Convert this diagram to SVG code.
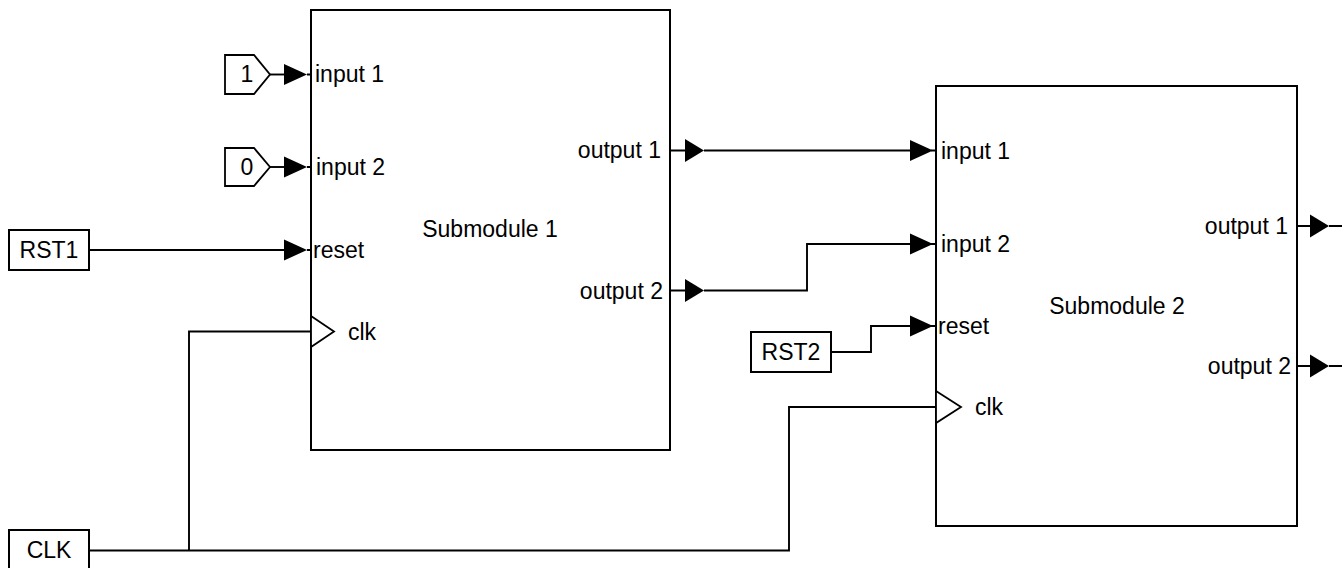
<svg xmlns="http://www.w3.org/2000/svg" xmlns:xlink="http://www.w3.org/1999/xlink" width="1342" height="568" viewBox="0 0 1342 568">
  <style>
    .blk{fill:#fff;stroke:#000;stroke-width:2}
    .w{fill:none;stroke:#000;stroke-width:1.9}
    .clkp{fill:#fff;stroke:#000;stroke-width:1.8}
    .head{fill:#000}
    text{font-family:"Liberation Sans",Arial,sans-serif;font-size:23px;fill:#000}
    .c{text-anchor:middle}
    .r{text-anchor:end}
  </style>
  <defs>
    <!-- input port arrowhead -->
    <path id="inHead" d="M0,-10.5L23,0L0,10.5Z"/>
    <!-- output port arrowhead -->
    <path id="outHead" d="M0,-11.5L19,0L0,11.5Z"/>
  </defs>
  <rect width="1342" height="568" fill="#fff"/>

  <!-- connectors -->
  <g id="connectors" class="w">
    <path d="M270,74.5H284"/>
    <path d="M270,167H284"/>
    <path d="M89,250H284"/>
    <path d="M89,550.5H789V407H936"/>
    <path d="M189,550.5V331.5H311"/>
    <path d="M831,352H871V326H910"/>
    <path d="M704,150.5H910"/>
    <path d="M704,290.5H807V244H910"/>
  </g>

  <!-- Submodule 1 -->
  <g id="submodule1">
    <rect class="blk" x="311" y="10" width="359" height="440"/>
    <text class="c" x="490" y="237">Submodule 1</text>
    <g class="w">
      <path d="M307,74.5H311M307,167H311M307,250H311M670,150.5H685M670,290.5H685"/>
    </g>
    <use href="#inHead" class="head" x="284" y="74.5"/>
    <use href="#inHead" class="head" x="284" y="167"/>
    <use href="#inHead" class="head" x="284" y="250"/>
    <use href="#outHead" class="head" x="685" y="150.5"/>
    <use href="#outHead" class="head" x="685" y="290.5"/>
    <polygon class="clkp" points="311,316 334,331.5 311,347"/>
    <text x="315" y="82">input 1</text>
    <text x="316" y="175">input 2</text>
    <text x="313" y="258">reset</text>
    <text x="348" y="340">clk</text>
    <text class="r" x="661" y="158">output 1</text>
    <text class="r" x="663" y="299">output 2</text>
  </g>

  <!-- Submodule 2 -->
  <g id="submodule2">
    <rect class="blk" x="936" y="86" width="361" height="440"/>
    <text class="c" x="1117" y="314">Submodule 2</text>
    <g class="w">
      <path d="M931,150.5H936M931,244H936M931,326H936M1297,226H1310M1329,226H1342M1297,366H1310M1329,366H1342"/>
    </g>
    <use href="#inHead" class="head" x="910" y="150.5"/>
    <use href="#inHead" class="head" x="910" y="244"/>
    <use href="#inHead" class="head" x="910" y="326"/>
    <use href="#outHead" class="head" x="1310" y="226"/>
    <use href="#outHead" class="head" x="1310" y="366"/>
    <polygon class="clkp" points="936,391 961,407 936,423"/>
    <text x="941" y="159">input 1</text>
    <text x="941" y="252">input 2</text>
    <text x="938" y="334">reset</text>
    <text x="975" y="415">clk</text>
    <text class="r" x="1288" y="234">output 1</text>
    <text class="r" x="1291" y="374">output 2</text>
  </g>

  <!-- constant 1 -->
  <g id="const1">
    <polygon class="blk" style="stroke-width:1.8" points="225,55 254,55 270,74.5 254,94 225,94"/>
    <text class="c" x="247" y="82">1</text>
  </g>

  <!-- constant 0 -->
  <g id="const0">
    <polygon class="blk" style="stroke-width:1.8" points="225,148 254,148 270,167 254,186 225,186"/>
    <text class="c" x="247" y="175">0</text>
  </g>

  <!-- RST1 -->
  <g id="rst1">
    <rect class="blk" x="9" y="230" width="80" height="40"/>
    <text class="c" x="49" y="258">RST1</text>
  </g>

  <!-- RST2 -->
  <g id="rst2">
    <rect class="blk" x="751" y="332" width="80" height="40"/>
    <text class="c" x="791" y="360">RST2</text>
  </g>

  <!-- CLK -->
  <g id="clk">
    <rect class="blk" x="9" y="530" width="80" height="40"/>
    <text class="c" x="49" y="558">CLK</text>
  </g>
</svg>
